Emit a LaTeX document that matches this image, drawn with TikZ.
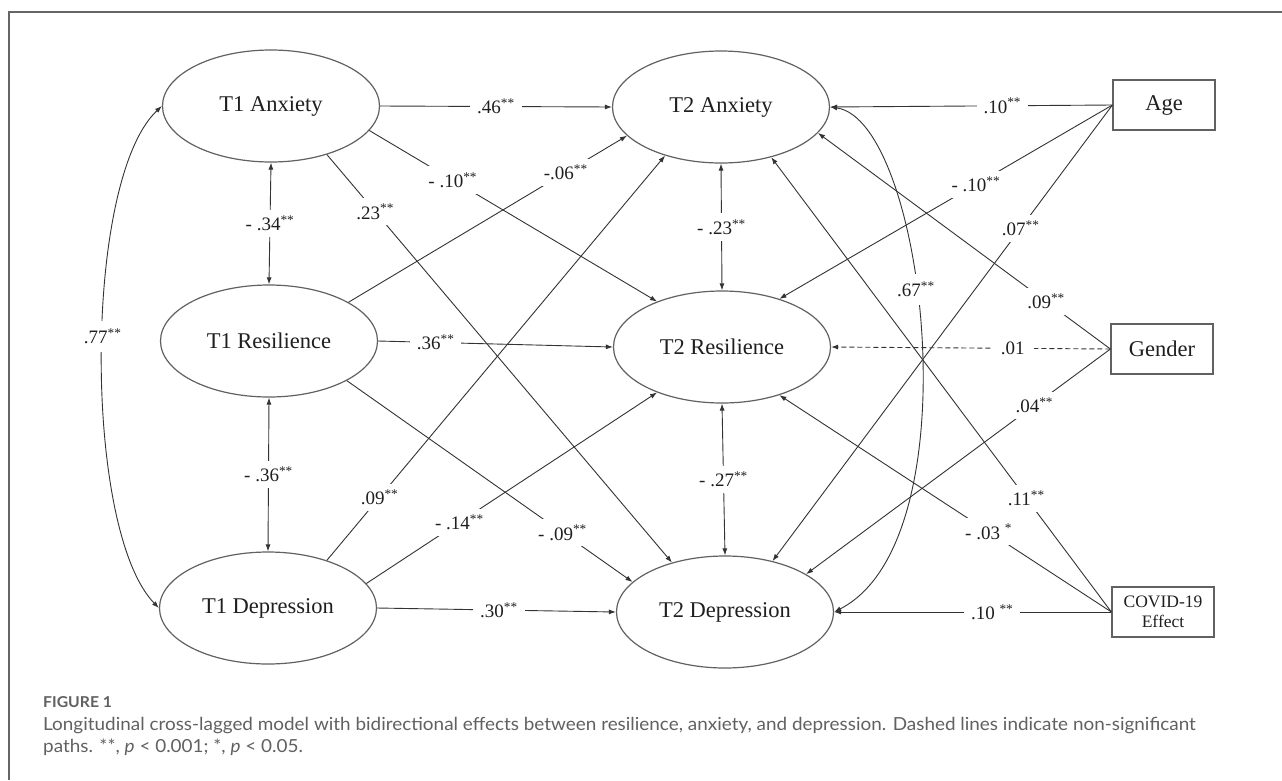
\documentclass[tikz,border=0pt]{standalone}
\usepackage{fontspec}
\setmainfont{Liberation Serif}
\newfontfamily\capfont[FakeStretch=1.05]{Lato}
\usetikzlibrary{arrows.meta,shapes.geometric}
\newcommand\sig{\textsuperscript{**}}
\begin{document}
\begin{tikzpicture}[x=1pt,y=-1pt,
  var/.style={ellipse,draw=black!62,line width=1.2pt,minimum width=217pt,minimum height=112pt,inner sep=0pt,font=\fontsize{22.5}{24}\selectfont,text=black!88},
  cov/.style={rectangle,draw=black!62,line width=1.2pt,minimum width=102pt,minimum height=50pt,inner sep=0pt,font=\fontsize{22.5}{24}\selectfont,text=black!88},
  arr/.style={draw=black!80,line width=0.9pt,-{Latex[length=7pt,width=5pt]}},
  biarr/.style={draw=black!80,line width=0.9pt,{Latex[length=7pt,width=5pt]}-{Latex[length=7pt,width=5pt]}},
  coef/.style={fill=white,inner xsep=7pt,inner ysep=6pt,font=\fontsize{19}{20}\selectfont,text=black!88},
  capt/.style={anchor=base west,inner sep=0pt,text=black!62},
]
\useasboundingbox (0,0) rectangle (1282,780);
\fill[white] (0,0) rectangle (1282,780);
% frame
\draw[black!60,line width=1.5pt] (1282,12) -- (9,12) -- (9,780);

% variables
\node[var] (A1) at (271,106) {T1 Anxiety};
\node[var] (R1) at (269,341) {T1 Resilience};
\node[var] (D1) at (268,608) {T1 Depression};
\node[var] (A2) at (721,107) {T2 Anxiety};
\node[var] (R2) at (722,347) {T2 Resilience};
\node[var] (D2) at (725,612) {T2 Depression};
\node[cov] (AG) at (1164,105) {Age};
\node[cov] (GE) at (1162,349) {Gender};
\node[cov,font=\fontsize{17.5}{20}\selectfont,align=center] (CV) at (1163,612) {COVID-19\\Effect};

% autoregressive paths
\draw[arr] (A1.east) -- node[coef,pos=0.5]{.46\sig} (A2.west);
\draw[arr] (R1.east) -- node[coef,pos=0.245]{.36\sig} (R2.west);
\draw[arr] (D1.east) -- node[coef,pos=0.51]{.30\sig} (D2.west);

% within-time correlations
\draw[biarr] (A1.south) -- node[coef,pos=0.5]{- .34\sig} (R1.north);
\draw[biarr] (R1.south) -- node[coef,pos=0.5]{- .36\sig} (D1.north);
\draw[biarr] (A2.south) -- node[coef,pos=0.5]{- .23\sig} (R2.north);
\draw[biarr] (R2.south) -- node[coef,pos=0.5]{- .27\sig} (D2.north);

% cross-lagged paths
\draw[arr] (A1.-14.5) -- node[coef,pos=0.29]{- .10\sig} (R2.145);
\draw[arr] (A1.-41.7) -- node[coef,pos=0.14]{.23\sig} (D2.137.4);
\draw[arr] (R1.26.9) -- node[coef,pos=0.78]{-.06\sig} (A2.197.1);
\draw[arr] (R1.-27.7) -- node[coef,pos=0.755]{- .09\sig} (D2.162.3);
\draw[arr] (D1.39.6) -- node[coef,pos=0.156]{.09\sig} (A2.221.2);
\draw[arr] (D1.14.2) -- node[coef,pos=0.32]{- .14\sig} (R2.215.8);

% stability correlations
\draw[biarr] (A1.west) .. controls (83,180) and (83,530) .. node[coef,pos=0.47,inner xsep=1pt,inner ysep=8pt]{.77\sig} (D1.west);
\draw[biarr] (A2.east) .. controls (925,120) and (975,540) .. node[coef,pos=0.43,inner xsep=1pt,inner ysep=8pt]{.67\sig} (D2.east);

% covariates
\draw[arr] (AG.west) -- node[coef,pos=0.39]{.10\sig} (A2.east);
\draw[arr] (AG.west) -- node[coef,pos=0.41]{- .10\sig} (R2.40.5);
\draw[arr] (AG.west) -- node[coef,pos=0.27]{.07\sig} (D2.47);
\draw[arr] (GE.west) -- node[coef,pos=0.22]{.09\sig} (A2.-15.8);
\draw[arr,dash pattern=on 5pt off 3pt] (GE.west) -- node[coef,pos=0.35,inner xsep=9pt]{.01} (R2.east);
\draw[arr] (GE.west) -- node[coef,pos=0.25]{.04\sig} (D2.25.8);
\draw[arr] (CV.west) -- node[coef,pos=0.25]{.11\sig} (A2.-45);
\draw[arr] (CV.west) -- node[coef,pos=0.37]{- .03 \textsuperscript{*}} (R2.-40.5);
\draw[arr] (CV.west) -- node[coef,pos=0.43]{.10 \textsuperscript{**}} (D2.east);

% caption
\node[capt,font=\capfont\bfseries\fontsize{15}{16}\selectfont] (cap0) at (43,707) {FIGURE 1};
\node[capt,font=\capfont\fontsize{18}{20}\selectfont] (cap1) at (43,730) {Longitudinal cross-lagged model with bidirectional effects between resilience, anxiety, and depression. Dashed lines indicate non-significant};
\node[capt,font=\capfont\fontsize{18}{20}\selectfont] (cap2) at (43,752) {paths. **, \textit{p} < 0.001; *, \textit{p} < 0.05.};
\end{tikzpicture}
\end{document}
